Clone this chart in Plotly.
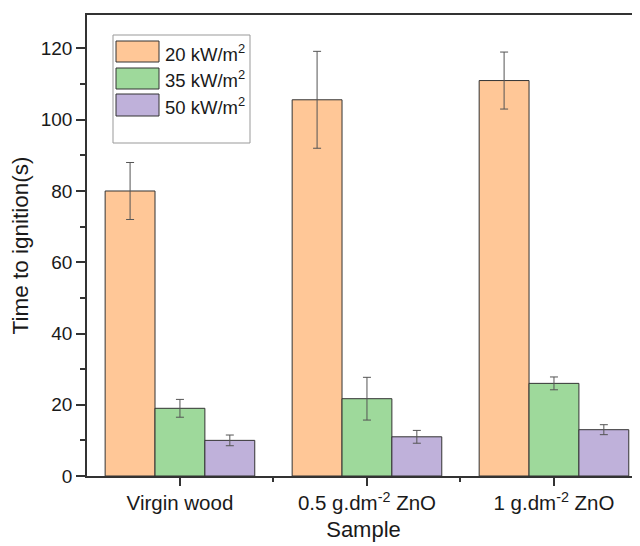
import plotly.graph_objects as go

categories = ["Virgin wood", "0.5 g.dm<sup>-2</sup> ZnO", "1 g.dm<sup>-2</sup> ZnO"]
series_names = ["20 kW/m<sup>2</sup>", "35 kW/m<sup>2</sup>", "50 kW/m<sup>2</sup>"]
v20 = [80.0, 105.6, 111.0]
e20 = [8.0, 13.6, 8.0]
v35 = [19.0, 21.7, 26.0]
e35 = [2.5, 6.0, 1.8]
v50 = [10.0, 11.0, 13.0]
e50 = [1.5, 1.8, 1.4]
colors = ["#FFC797", "#9ED99B", "#BFB1DA"]

# page body has an 8px margin; compensate so the plot lands where the reference has it
OFF = 8
W, H = 640 - OFF, 546 - OFF
L, R, T, B = 87 - OFF, 0, 15 - OFF, 70
pw, ph = W - L - R, H - T - B

def px(x):
    return (x - OFF - L) / pw

def py(y):
    return (H - B - (y - OFF)) / ph

xs = [0, 1, 2]
fig = go.Figure()
for name, vals, errs, c in zip(series_names, [v20, v35, v50], [e20, e35, e50], colors):
    fig.add_trace(go.Bar(
        x=xs, y=vals, name=name,
        marker=dict(color=c, line=dict(color="#333333", width=1)),
        error_y=dict(type="data", array=errs, visible=True, color="#555555", thickness=1, width=4),
        showlegend=False,
    ))

fig.update_layout(
    width=W, height=H,
    margin=dict(l=L, r=R, t=T, b=B, autoexpand=False),
    paper_bgcolor="white", plot_bgcolor="white",
    barmode="group", bargap=0.2, bargroupgap=0,
    font=dict(family="Liberation Sans, Arial, sans-serif", size=19, color="#1a1a1a"),
)
fig.update_xaxes(
    range=[-0.497, 2.46], tickvals=xs, ticktext=categories,
    tickfont=dict(size=20.5),
    automargin=False,
    showline=True, linecolor="#333333", linewidth=1.5, mirror=True,
    ticks="outside", ticklen=8, tickwidth=1.5, tickcolor="#333333",
    minor=dict(tickvals=[0.5, 1.5], ticks="outside", ticklen=4, tickwidth=1.5, tickcolor="#333333"),
    showgrid=False, zeroline=False,
    title=dict(text="Sample", font=dict(size=22), standoff=8),
)
fig.update_yaxes(
    range=[0, 129.4], tickvals=[0, 20, 40, 60, 80, 100, 120],
    tickfont=dict(size=19),
    automargin=False,
    showline=True, linecolor="#333333", linewidth=1.5,
    ticks="outside", ticklen=9, tickwidth=1.5, tickcolor="#333333",
    minor=dict(dtick=10, tick0=0, ticks="outside", ticklen=5, tickwidth=1.5, tickcolor="#333333"),
    showgrid=False, zeroline=False,
    title=dict(text="Time to ignition(s)", font=dict(size=22.5), standoff=6),
)

# manual legend
fig.add_shape(type="rect", xref="paper", yref="paper",
              x0=px(113), x1=px(250), y0=py(143), y1=py(35),
              line=dict(color="#999999", width=1), fillcolor="white")
sw = [(41, 62), (68, 89), (94, 116)]
for (y0, y1), c, name in zip(sw, colors, series_names):
    fig.add_shape(type="rect", xref="paper", yref="paper",
                  x0=px(116), x1=px(159), y0=py(y1), y1=py(y0),
                  line=dict(color="#333333", width=1), fillcolor=c)
    fig.add_annotation(xref="paper", yref="paper", x=px(163), y=py((y0 + y1) / 2 + 1),
                       text=name, showarrow=False, xanchor="left", yanchor="middle",
                       font=dict(size=18.5, color="#1a1a1a"))

fig.write_html("out.html")
